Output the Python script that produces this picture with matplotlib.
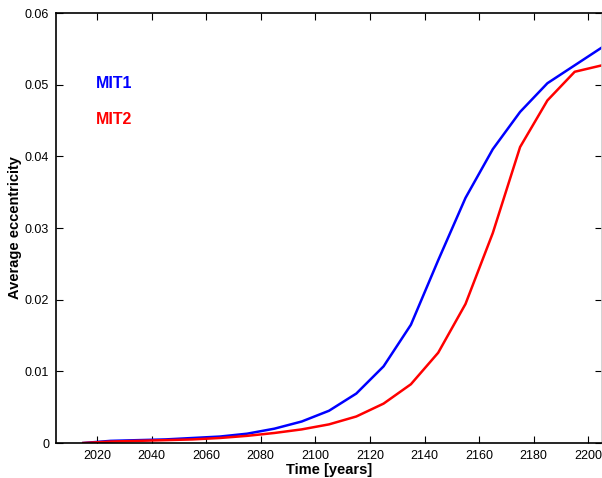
import matplotlib
matplotlib.use('Agg')
import matplotlib.pyplot as plt

plt.rcParams['font.family'] = ['Liberation Sans', 'DejaVu Sans']

# time axis (years) and the two runs
years = [2015, 2025, 2035, 2045, 2055, 2065, 2075, 2085, 2095, 2105,
         2115, 2125, 2135, 2145, 2155, 2165, 2175, 2185, 2195, 2205]
mit1 = [0.0, 0.0003, 0.0004, 0.0005, 0.0007, 0.0009, 0.0013, 0.002, 0.003, 0.0045,
        0.0069, 0.0107, 0.0165, 0.0255, 0.0342, 0.041, 0.0462, 0.0502, 0.0527, 0.0552]
mit2 = [0.0, 0.0002, 0.0003, 0.0004, 0.0005, 0.0007, 0.001, 0.0014, 0.0019, 0.0026,
        0.0037, 0.0055, 0.0082, 0.0126, 0.0194, 0.0293, 0.0413, 0.0478, 0.0518, 0.0527]
xticks = [2020, 2040, 2060, 2080, 2100, 2120, 2140, 2160, 2180, 2200]
yticks = [0, 0.01, 0.02, 0.03, 0.04, 0.05, 0.06]

fig = plt.figure(figsize=(6.02, 4.78), dpi=100)
ax = fig.add_axes([0.093, 0.0732, 0.907, 0.8996])

ax.plot(years, mit1, color='#0000ff', lw=1.8)
ax.plot(years, mit2, color='#ff0000', lw=1.8)

# inline labels instead of a legend
ax.text(0.159, 0.825, 'MIT1', color='#0000ff', fontsize=11.5, fontweight='bold',
        transform=fig.transFigure, va='center')
ax.text(0.159, 0.749, 'MIT2', color='#ff0000', fontsize=11.5, fontweight='bold',
        transform=fig.transFigure, va='center')

ax.set_xlim(2005, 2205)
ax.set_ylim(0, 0.06)
ax.set_xticks(xticks)
ax.set_yticks(yticks)
ax.set_yticklabels(['0', '0.01', '0.02', '0.03', '0.04', '0.05', '0.06'])
ax.tick_params(direction='in', top=True, right=True, length=5, width=0.8,
               labelsize=9, pad=5)
for s in ax.spines.values():
    s.set_linewidth(1.2)
ax.spines['right'].set_color('#cccccc')

ax.set_xlabel('Time [years]', fontsize=10.5, fontweight='bold', labelpad=1)
ax.set_ylabel('Average eccentricity', fontsize=10.5, fontweight='bold', labelpad=2)

fig.savefig('out.png', dpi=100)
